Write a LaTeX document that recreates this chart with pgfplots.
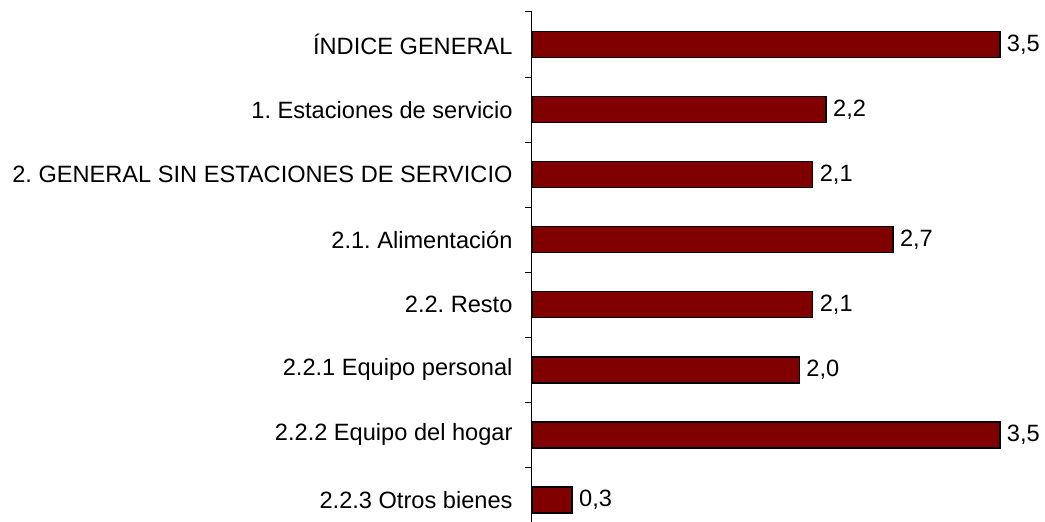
\documentclass[border=0pt]{standalone}
\usepackage{pgfplots}
\pgfplotsset{compat=1.18}
\usepackage{fontspec}
\setmainfont{Liberation Sans}
\frenchspacing
\definecolor{barred}{HTML}{800000}
\begin{document}
\begin{tikzpicture}
\begin{axis}[
  at={(0pt,0pt)}, anchor=south west,
  scale only axis,
  width=514.7pt, height=510pt,
  xbar, bar width=26pt,
  xmin=0, xmax=3.85,
  ymin=-0.5, ymax=7.34,
  y dir=reverse,
  axis x line=none,
  axis y line*=left,
  y axis line style={black, line width=1pt, -},
  ytick={0,...,7},
  yticklabels={ÍNDICE GENERAL, 1. Estaciones de servicio, 2. GENERAL SIN ESTACIONES DE SERVICIO, 2.1. Alimentación, 2.2. Resto, 2.2.1 Equipo personal, 2.2.2 Equipo del hogar, 2.2.3 Otros bienes},
  yticklabel style={font=\fontsize{23.6}{27}\selectfont, xshift=-16pt},
  major tick length=0pt,
  minor ytick={-0.5,0.5,...,6.5},
  minor tick length=7pt,
  tick align=outside,
  minor tick style={black, line width=1pt},
  nodes near coords,
  every node near coord/.append style={font=\fontsize{23.6}{27}\selectfont, anchor=west, xshift=3pt,
    /pgf/number format/.cd, fixed, fixed zerofill, precision=1, use comma, assume math mode=true},
  clip=false,
]
\addplot[fill=barred, draw=black, line width=1.5pt] coordinates {
  (3.5,0) (2.2,1) (2.1,2) (2.7,3) (2.1,4) (2.0,5) (3.5,6) (0.3,7)
};
\end{axis}
\pgfresetboundingbox
\path[use as bounding box] (-532pt,0pt) rectangle (513pt,522pt);
\end{tikzpicture}
\end{document}
